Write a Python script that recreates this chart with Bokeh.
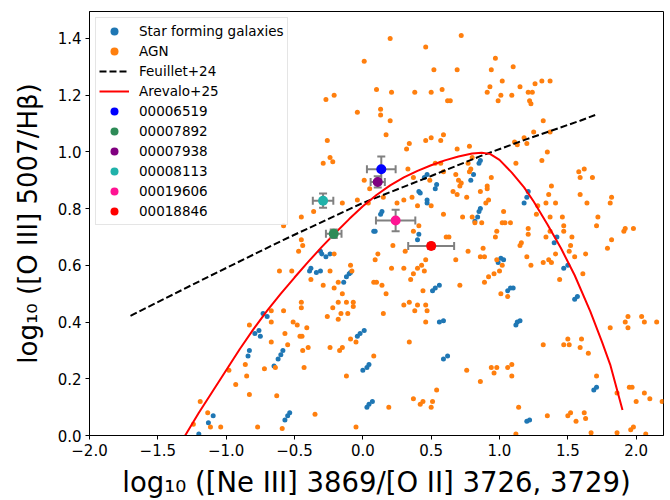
from bokeh.plotting import figure
from bokeh.models import Range1d, FixedTicker, CustomJSTickFormatter
from bokeh.embed import file_html
from bokeh.resources import INLINE

# ---------------- data ----------------
# AGN (orange) points: (x, y)
agn = [
    (0.20, 1.40), (0.72, 1.41), (0.46, 1.37), (0.97, 1.33), (1.10, 1.30), (0.52, 1.29), (0.69, 1.29),
    (0.94, 1.29), (0.10, 1.22), (0.21, 1.21), (0.38, 1.21), (0.50, 1.21), (0.58, 1.22), (1.02, 1.25),
    (0.93, 1.23), (0.91, 1.21), (1.15, 1.23), (1.26, 1.24), (1.31, 1.25), (1.37, 1.25), (1.21, 1.21),
    (1.24, 1.21), (1.01, 1.20), (1.09, 1.20), (0.99, 1.18), (1.22, 1.18), (1.23, 1.17), (0.62, 1.18),
    (0.64, 1.18), (0.13, 1.15), (0.13, 1.13), (0.20, 1.11), (1.32, 1.11), (0.17, 1.06), (0.46, 1.04),
    (0.50, 1.05), (0.57, 1.04), (0.59, 1.06), (0.34, 1.03), (0.32, 1.01), (0.69, 1.01), (0.78, 1.02),
    (1.11, 1.035), (1.18, 1.05), (1.25, 1.07), (1.37, 1.07), (1.20, 1.03), (1.13, 1.025), (1.35, 1.00),
    (1.31, 0.97), (1.12, 0.96), (1.58, 0.93), (1.62, 0.94), (1.59, 0.91), (1.68, 0.91), (0.33, 0.94),
    (0.57, 0.96), (0.53, 0.96), (0.68, 0.92), (0.70, 0.90), (0.79, 0.94), (0.78, 0.93), (0.72, 0.89),
    (0.71, 0.88), (0.86, 0.86), (0.91, 0.88), (0.91, 0.87), (0.94, 0.91), (0.37, 0.91), (0.49, 0.90),
    (0.59, 0.93), (0.66, 0.86), (0.69, 0.85), (0.76, 0.84), (0.90, 0.82), (0.92, 0.83), (1.03, 0.79),
    (1.27, 0.78), (1.38, 0.88), (1.36, 0.85), (1.41, 0.82), (1.59, 0.85), (1.64, 0.82), (1.81, 0.82),
    (1.82, 0.84), (0.15, 0.84), (0.25, 0.82), (0.30, 0.83), (0.36, 0.84), (0.40, 0.81), (0.50, 0.81),
    (0.59, 0.78), (1.72, 0.77), (0.77, 0.96), (0.80, 0.98),
    (0.73, 0.77), (0.80, 0.77), (0.82, 0.75), (0.87, 0.75), (1.04, 0.75), (1.02, 0.75), (1.08, 0.75),
    (0.98, 0.72), (0.97, 0.70), (1.16, 0.68), (1.15, 0.67), (1.21, 0.73), (1.21, 0.71), (1.28, 0.81),
    (1.34, 0.82), (1.37, 0.77), (1.37, 0.72), (1.34, 0.70), (1.46, 0.77), (1.47, 0.74), (1.47, 0.72),
    (1.53, 0.70), (1.52, 0.67), (1.51, 0.65), (1.55, 0.63), (1.63, 0.64), (1.71, 0.74), (1.82, 0.69),
    (1.79, 0.66), (1.91, 0.72), (1.92, 0.73), (1.98, 0.73), (0.37, 0.72), (0.41, 0.74), (0.31, 0.65),
    (0.22, 0.67), (0.21, 0.59), (0.30, 0.59), (0.46, 0.62), (0.45, 0.58), (0.43, 0.60), (0.40, 0.59),
    (0.37, 0.57), (0.35, 0.55), (0.63, 0.70), (0.61, 0.70), (0.68, 0.62), (0.77, 0.65), (0.71, 0.53),
    (0.86, 0.63), (0.89, 0.63), (0.88, 0.66), (0.92, 0.56), (0.89, 0.54), (0.96, 0.57), (1.00, 0.58),
    (1.02, 0.60), (0.98, 0.62), (1.20, 0.63), (1.32, 0.61), (1.36, 0.62), (1.38, 0.61), (1.41, 0.64),
    (1.44, 0.55), (1.23, 0.60), (1.61, 0.57), (1.01, 0.50), (1.06, 0.49), (0.14, 0.53), (0.17, 0.50),
    (0.30, 0.46), (0.34, 0.47), (0.40, 0.46), (0.38, 0.44), (0.46, 0.46), (0.47, 0.44), (0.44, 0.51),
    (0.46, 0.40), (0.15, 0.43), (0.34, 0.33), (0.76, 0.23), (0.86, 0.19), (0.94, 0.24), (0.96, 0.22),
    (0.98, 0.24), (1.06, 0.24), (1.09, 0.25), (1.09, 0.21), (1.14, 0.10), (1.32, 0.32), (1.47, 0.32),
    (1.50, 0.34), (1.51, 0.32), (1.59, 0.31), (1.60, 0.34), (1.65, 0.29), (1.71, 0.21), (1.81, 0.38),
    (1.92, 0.40), (1.94, 0.38), (1.94, 0.42), (2.04, 0.42), (2.06, 0.40), (2.15, 0.40), (0.37, 0.13),
    (0.42, 0.11), (0.44, 0.12), (0.50, 0.10), (0.51, 0.12), (0.54, 0.16), (0.19, 0.10), (1.35, 0.07),
    (1.50, 0.07), (1.52, 0.08), (1.62, 0.08), (1.63, 0.06), (1.56, 0.05), (1.86, 0.01), (1.96, 0.02),
    (1.98, 0.03), (1.95, 0.17), (1.97, 0.17), (2.00, 0.12), (2.06, 0.15), (2.10, 0.13), (2.19, 0.12),
    (1.86, 0.15), (1.67, 0.01), (1.12, 0.005), (2.07, 0.005),
    (-0.47, 0.65), (-0.44, 0.67), (-0.45, 0.69), (-0.38, 0.55), (-0.29, 0.53), (-0.24, 0.58), (-0.21, 0.64),
    (-0.21, 0.52), (-0.18, 0.54), (-0.09, 0.60), (-0.08, 0.58), (-0.15, 0.50), (-0.18, 0.47), (-0.22, 0.45),
    (-0.12, 0.47), (-0.07, 0.47), (-0.07, 0.455), (-0.26, 0.42), (-0.18, 0.41), (-0.16, 0.43), (-0.11, 0.43),
    (0.09, 0.62), (0.11, 0.64), (0.08, 0.54), (0.10, 0.54), (-0.61, 0.58), (-0.52, 0.58), (-0.67, 0.44),
    (-0.58, 0.44), (-0.45, 0.47), (-0.45, 0.45), (-0.83, 0.39), (-0.67, 0.40), (-0.51, 0.40), (-0.48, 0.39),
    (-0.41, 0.38), (-0.57, 0.36), (-0.46, 0.35), (-0.445, 0.35), (-0.67, 0.33), (-0.55, 0.32), (-0.40, 0.31),
    (-0.44, 0.30), (-0.24, 0.31), (-0.17, 0.30), (-0.15, 0.31), (-0.09, 0.34), (-0.05, 0.33), (-0.86, 0.25),
    (-0.72, 0.235), (-0.64, 0.24), (-0.43, 0.24), (0.08, 0.28), (-0.98, 0.23), (-0.93, 0.18), (-0.85, 0.21),
    (-0.83, 0.145), (-0.63, 0.14), (-0.12, 0.21), (-1.19, 0.12), (-1.135, 0.08), (-1.24, 0.04), (-1.115, 0.03),
    (-1.04, 0.03), (-0.77, 0.03), (-0.59, 0.025), (-0.35, 0.075), (-0.05, 0.03),
    (-0.26, 1.04), (-0.24, 0.98), (-0.22, 0.965), (-0.29, 0.96), (0.01, 0.90), (0.05, 0.87), (-0.04, 0.83),
    (0.04, 0.82), (-0.36, 0.79), (-0.15, 0.82), (-0.45, 0.77), (-0.58, 0.74),
    (0.01, 1.32), (-0.21, 1.20), (-0.27, 1.185), (-0.04, 1.14),
]

# Star forming galaxies (blue) points: (x, y)
sf = [
    (0.86, 0.97), (0.85, 0.96), (0.81, 0.92), (0.79, 0.90), (0.54, 0.885), (0.53, 0.87), (0.47, 0.92),
    (0.45, 0.91), (0.41, 0.86), (0.42, 0.855), (0.47, 0.83), (0.47, 0.82), (0.85, 0.79), (0.86, 0.80),
    (1.18, 0.82), (1.20, 0.84), (1.21, 0.86), (0.14, 0.79), (0.13, 0.78),
    (0.08, 0.72), (0.09, 0.72), (0.41, 0.71), (0.40, 0.69), (0.84, 0.77), (0.82, 0.755), (1.01, 0.625),
    (1.03, 0.62), (0.99, 0.61), (1.40, 0.68), (1.42, 0.70), (1.47, 0.59), (1.50, 0.60), (1.55, 0.48),
    (1.57, 0.49), (0.51, 0.51), (0.53, 0.52), (0.56, 0.53), (0.56, 0.40), (0.59, 0.405), (0.59, 0.27),
    (0.62, 0.28), (1.06, 0.51), (1.08, 0.52), (1.10, 0.52), (1.12, 0.39), (1.13, 0.40), (1.15, 0.405),
    (1.69, 0.16), (1.71, 0.17), (1.20, 0.05), (1.22, 0.055),
    (-0.31, 0.65), (-0.30, 0.64), (-0.27, 0.63), (-0.24, 0.64), (-0.39, 0.58), (-0.38, 0.59), (-0.34, 0.575),
    (-0.31, 0.58), (-0.14, 0.54), (-0.12, 0.56), (-0.10, 0.57), (-0.09, 0.575), (-0.70, 0.42), (-0.73, 0.43),
    (-0.79, 0.36), (-0.76, 0.37), (-0.75, 0.35), (-0.83, 0.30), (-0.84, 0.28), (-0.62, 0.27), (-0.60, 0.285),
    (-0.585, 0.30), (-0.65, 0.245), (-0.04, 0.35), (-0.02, 0.36), (0.01, 0.37), (0.00, 0.23), (0.03, 0.24),
    (0.045, 0.25), (0.03, 0.10), (0.045, 0.11), (0.07, 0.12), (-0.535, 0.08), (-0.55, 0.07), (-0.57, 0.055),
    (-1.095, 0.07), (-1.13, 0.045), (-1.20, 0.005),
]

# Feuillet+24 relation (dashed)
feuillet_x = [-1.70, -1.15, -0.58, 0.00, 0.50, 0.86, 1.20, 1.59, 1.70]
feuillet_y = [0.422, 0.555, 0.69, 0.82, 0.915, 0.985, 1.045, 1.11, 1.13]

# Arevalo+25 relation (red)
arevalo_x = [-1.30, -1.20, -1.10, -1.00, -0.90, -0.80, -0.70, -0.60, -0.50, -0.40, -0.30, -0.20,
             -0.10, 0.00, 0.10, 0.20, 0.30, 0.40, 0.50, 0.60, 0.70, 0.80, 0.87, 0.93, 1.00, 1.09,
             1.18, 1.25, 1.35, 1.45, 1.55, 1.665, 1.75, 1.81, 1.90]
arevalo_y = [0.0, 0.08, 0.155, 0.23, 0.305, 0.375, 0.44, 0.50, 0.557, 0.612, 0.665, 0.715,
             0.763, 0.808, 0.848, 0.882, 0.91, 0.933, 0.953, 0.97, 0.984, 0.994, 0.997, 0.993, 0.972,
             0.927, 0.875, 0.825, 0.745, 0.66, 0.565, 0.437, 0.33, 0.25, 0.09]

# Individual objects with error bars
obj_names = ["00006519", "00007892", "00007938", "00008113", "00019606", "00018846"]
obj_x = [0.135, -0.213, 0.109, -0.291, 0.240, 0.500]
obj_y = [0.939, 0.711, 0.894, 0.828, 0.758, 0.668]
obj_xerr = [0.105, 0.057, 0.052, 0.075, 0.144, 0.168]
obj_yerr = [0.045, 0.015, 0.020, 0.025, 0.038, 0.010]
obj_colors = ["blue", "seagreen", "purple", "lightseagreen", "deeppink", "red"]

x_ticks = [-2.0, -1.5, -1.0, -0.5, 0.0, 0.5, 1.0, 1.5, 2.0]
y_ticks = [0.0, 0.2, 0.4, 0.6, 0.8, 1.0, 1.2, 1.4]

# ---------------- figure ----------------
FONT = "DejaVu Sans"
p = figure(width=670, height=500, x_range=Range1d(-2.0, 2.2), y_range=Range1d(0.0, 1.495),
           output_backend="svg", toolbar_location=None,
           min_border_left=89, min_border_right=7, min_border_top=11, min_border_bottom=62)
p.background_fill_color = "white"
p.border_fill_color = "white"
p.outline_line_color = "black"
p.outline_line_width = 1
p.xgrid.visible = False
p.ygrid.visible = False

fmt = CustomJSTickFormatter(code="return (tick < -1e-9 ? '\\u2212' : '') + Math.abs(tick).toFixed(1);")
for ax, ticks in ((p.xaxis[0], x_ticks), (p.yaxis[0], y_ticks)):
    ax.ticker = FixedTicker(ticks=ticks)
    ax.formatter = fmt
    ax.major_tick_in = 0
    ax.major_tick_out = 4
    ax.minor_tick_in = 0
    ax.minor_tick_out = 0
    ax.axis_line_color = "black"
    ax.major_tick_line_color = "black"
    ax.major_label_text_font = FONT
    ax.major_label_text_font_size = "15px"
    ax.major_label_text_color = "black"
    ax.major_label_standoff = 4
    ax.axis_label_text_font = FONT
    ax.axis_label_text_font_style = "normal"
    ax.axis_label_text_color = "black"

p.xaxis.axis_label = "log\u2081\u2080 ([Ne III] 3869/[O II] 3726, 3729)"
p.yaxis.axis_label = "log\u2081\u2080 ([O III] 5007/H\u03b2)"
p.xaxis.axis_label_text_font_size = "27.5px"
p.yaxis.axis_label_text_font_size = "26px"
p.xaxis.axis_label_standoff = 7
p.yaxis.axis_label_standoff = 12

sf_x = [a for a, b in sf]
sf_y = [b for a, b in sf]
agn_x = [a for a, b in agn]
agn_y = [b for a, b in agn]

p.scatter(sf_x, sf_y, size=5, color="#1f77b4", line_color=None, legend_label="Star forming galaxies")
p.scatter(agn_x, agn_y, size=5, color="#ff7f0e", line_color=None, legend_label="AGN")
p.line(feuillet_x, feuillet_y, line_color="black", line_width=2, line_dash="7 3", legend_label="Feuillet+24")
p.line(arevalo_x, arevalo_y, line_color="red", line_width=2, legend_label="Arevalo+25")

ERR = "#808080"
for name, x, y, xe, ye, c in zip(obj_names, obj_x, obj_y, obj_xerr, obj_yerr, obj_colors):
    # horizontal and vertical error bars
    p.segment(x0=[x - xe], y0=[y], x1=[x + xe], y1=[y], line_color=ERR, line_width=2)
    p.segment(x0=[x], y0=[y - ye], x1=[x], y1=[y + ye], line_color=ERR, line_width=2)
    # caps
    p.scatter([x - xe, x + xe], [y, y], marker="dash", angle=1.5708, size=8, line_color=ERR, line_width=2)
    p.scatter([x, x], [y - ye, y + ye], marker="dash", size=8, line_color=ERR, line_width=2)
    p.scatter([x], [y], size=10, color=c, line_color=None, legend_label=name)

lg = p.legend[0]
lg.location = "top_left"
lg.margin = 6
lg.padding = 3
lg.spacing = 0
lg.glyph_width = 30
lg.glyph_height = 20
lg.label_height = 20
lg.label_standoff = 10
lg.label_text_font = FONT
lg.label_text_font_size = "13.5px"
lg.label_text_color = "black"
lg.border_line_color = "#cccccc"
lg.border_line_width = 1
lg.background_fill_color = "white"
lg.background_fill_alpha = 0.8

open("out.html", "w").write(file_html(p, INLINE))
